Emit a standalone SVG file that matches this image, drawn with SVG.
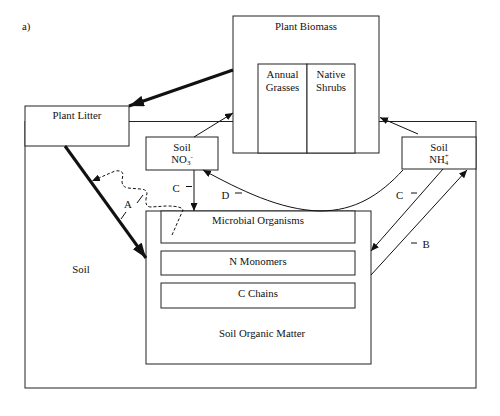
<svg xmlns="http://www.w3.org/2000/svg" width="500" height="416" viewBox="0 0 500 416">
<style>
.b{fill:#fff;stroke:#222;stroke-width:1}
.t{font-family:"Liberation Serif","Times New Roman",serif;font-size:10.8px;fill:#111;text-anchor:middle}
.l{fill:none;stroke:#111;stroke-width:1}
.k{fill:none;stroke:#111;stroke-width:3}
.d{fill:none;stroke:#111;stroke-width:1;stroke-dasharray:3,2}
</style>
<defs>
<marker id="ah" markerWidth="8" markerHeight="7" refX="8" refY="3.5" orient="auto" markerUnits="userSpaceOnUse"><path d="M0,0 L8,3.5 L0,7 z" fill="#111"/></marker>
<marker id="ak" markerWidth="15" markerHeight="11" refX="15" refY="5.5" orient="auto" markerUnits="userSpaceOnUse"><path d="M0,0 L15,5.5 L0,11 z" fill="#111"/></marker>
</defs>
<rect width="500" height="416" fill="#fff"/>
<text x="22" y="30" class="t" style="text-anchor:start">a)</text>
<g id="soil">
<rect class="b" x="25" y="121.5" width="451" height="266.5"/>
<text class="t" x="81" y="273">Soil</text>
</g>
<g id="som">
<rect class="b" x="146" y="211" width="225" height="153"/>
<text class="t" x="262" y="337">Soil Organic Matter</text>
</g>
<g id="microbial">
<rect class="b" x="161" y="211" width="194" height="32"/>
<text class="t" x="258" y="224">Microbial Organisms</text>
</g>
<g id="nmonomers">
<rect class="b" x="161" y="251" width="194" height="24"/>
<text class="t" x="258" y="265">N Monomers</text>
</g>
<g id="cchains">
<rect class="b" x="161" y="283" width="194" height="25"/>
<text class="t" x="258" y="297">C Chains</text>
</g>
<g id="plantlitter">
<rect class="b" x="25" y="106" width="104" height="40"/>
<text class="t" x="77" y="119">Plant Litter</text>
</g>
<g id="plantbiomass">
<rect class="b" x="233" y="16" width="146" height="137"/>
<text class="t" x="306" y="30">Plant Biomass</text>
</g>
<g id="annualgrasses">
<rect class="b" x="258" y="64" width="49" height="89"/>
<text class="t" x="282.5" y="78">Annual</text>
<text class="t" x="282.5" y="91">Grasses</text>
</g>
<g id="nativeshrubs">
<rect class="b" x="307" y="64" width="48" height="89"/>
<text class="t" x="331" y="78">Native</text>
<text class="t" x="331" y="91">Shrubs</text>
</g>
<g id="no3">
<rect class="b" x="146" y="137" width="72" height="33"/>
<text class="t" x="182" y="151">Soil</text>
<text class="t" x="182" y="163">NO<tspan font-size="7" dy="2">3</tspan><tspan font-size="7" dy="-6">-</tspan></text>
</g>
<g id="nh4">
<rect class="b" x="402" y="137" width="74" height="32"/>
<text class="t" x="439" y="151">Soil</text>
<text class="t" x="439" y="163">NH<tspan font-size="7" dy="2">4</tspan><tspan font-size="7" dx="-3.5" dy="-7">+</tspan></text>
</g>
<g id="connectors">
<path class="k" d="M233,70 L129,106" marker-end="url(#ak)"/>
<path class="k" d="M65,146 L146,258" marker-end="url(#ak)"/>
<path class="l" d="M194,137 L233,113" marker-end="url(#ah)"/>
<path class="l" d="M418,134 L380,117.5" marker-end="url(#ah)"/>
<path class="l" d="M194,170 L194,211" marker-end="url(#ah)"/>
<path class="l" d="M403,170 C380,195 355,211 320,211 C280,210 240,190 203,170" marker-end="url(#ah)"/>
<path class="l" d="M443,169 L371,251" marker-end="url(#ah)"/>
<path class="l" d="M371,275 L467,170" marker-end="url(#ah)"/>
<path class="d" d="M172,235 L183,210 Q182,206 166,206 L151,207 Q145,207 146,199 L147,193 Q146,189 140,189 L128,188 Q122,187 122,181 L123,174 Q122,170 115,171 L92,181" marker-end="url(#ah)"/>
<path class="l" d="M121,219 L126,212 M137,203 L143,195 M186,186.5 L192,186.5 M235,193 L242,193 M411,193 L417,193 M411,243 L417,243"/>
<text class="t" x="128" y="208">A</text>
<text class="t" x="176" y="192">C</text>
<text class="t" x="225.5" y="199">D</text>
<text class="t" x="399.5" y="199">C</text>
<text class="t" x="426" y="248">B</text>
</g>
</svg>
